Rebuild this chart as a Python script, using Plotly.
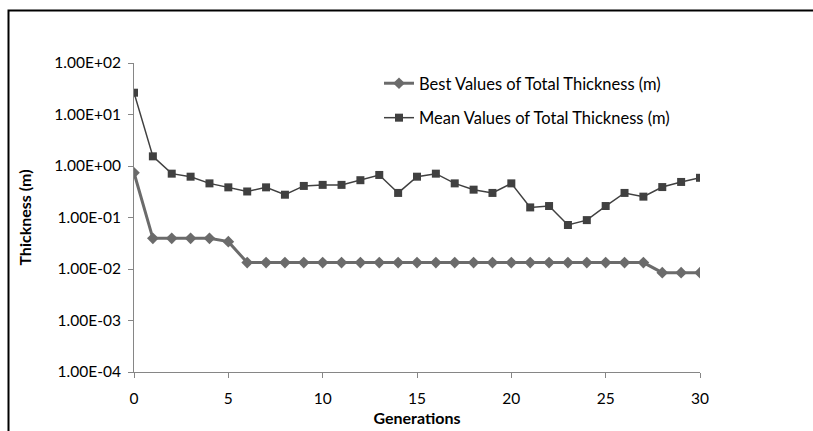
import plotly.graph_objects as go

generations = list(range(31))
best_values = [0.74, 0.0394, 0.0394, 0.0394, 0.0394, 0.034] + [0.0133] * 22 + [0.0085, 0.0085, 0.0085]
mean_values = [26.5, 1.54, 0.71, 0.62, 0.46, 0.385, 0.32, 0.385, 0.277, 0.41,
               0.43, 0.43, 0.53, 0.67, 0.30, 0.62, 0.71, 0.46, 0.347, 0.30,
               0.46, 0.157, 0.167, 0.0715, 0.089, 0.167, 0.30, 0.254, 0.39, 0.49, 0.59]
y_tick_vals = [1e-4, 1e-3, 1e-2, 1e-1, 1e0, 1e1, 1e2]
y_tick_text = ["1.00E-04", "1.00E-03", "1.00E-02", "1.00E-01", "1.00E+00", "1.00E+01", "1.00E+02"]
x_tick_vals = [0, 5, 10, 15, 20, 25, 30]

W, H = 813, 431
L, R, T, B = 134, 113, 63, 59

fig = go.Figure()
fig.add_trace(go.Scatter(
    x=generations, y=best_values, mode="lines+markers",
    name="Best Values of Total Thickness (m)", legendgroup="a",
    line=dict(color="#6b6b6b", width=3),
    marker=dict(symbol="diamond", size=9, color="#6b6b6b"),
))
fig.add_trace(go.Scatter(
    x=generations, y=mean_values, mode="lines+markers",
    name="Mean Values of Total Thickness (m)", legendgroup="b",
    line=dict(color="#404040", width=1.5),
    marker=dict(symbol="square", size=8, color="#404040"),
))

font = "Lato, 'Open Sans', sans-serif"
fig.update_layout(
    width=W, height=H,
    margin=dict(l=L, r=R, t=T, b=B, pad=0, autoexpand=False),
    paper_bgcolor="white", plot_bgcolor="white",
    font=dict(family=font, size=15, color="#000000"),
    showlegend=True,
    legend=dict(
        x=(379 - L) / (W - L - R), y=(372 - 66) / (H - T - B),
        xanchor="left", yanchor="top",
        bgcolor="rgba(0,0,0,0)", font=dict(size=16.5, family=font),
        itemwidth=30, tracegroupgap=10,
    ),
    xaxis=dict(
        range=[0, 30], tickvals=x_tick_vals, showgrid=False, zeroline=False,
        showline=True, linecolor="#868686", linewidth=1, automargin=False,
        ticks="outside", ticklen=5, tickcolor="#868686",
        ticklabelstandoff=7,
        title=dict(text="<b>Generations</b>", font=dict(size=16, family=font), standoff=7),
        tickfont=dict(size=15.5, family=font),
    ),
    yaxis=dict(
        type="log", range=[-4, 2], tickvals=y_tick_vals, ticktext=y_tick_text,
        showgrid=False, zeroline=False, automargin=False,
        showline=True, linecolor="#868686", linewidth=1,
        ticks="outside", ticklen=5, tickcolor="#868686",
        ticklabelstandoff=4,
        title=dict(text="<b>Thickness (m)</b>", font=dict(size=16, family=font), standoff=18),
        tickfont=dict(size=15.5, family=font),
    ),
)

pw, ph = W - L - R, H - T - B
fig.add_shape(
    type="rect", xref="paper", yref="paper",
    x0=(8.5 - L) / pw, x1=(W + 20 - L) / pw,
    y0=-(H + 20 - (H - B)) / ph, y1=((H - B) - 10.5) / ph,
    line=dict(color="#000000", width=2), fillcolor="rgba(0,0,0,0)", layer="below",
)

fig.write_html("out.html")
